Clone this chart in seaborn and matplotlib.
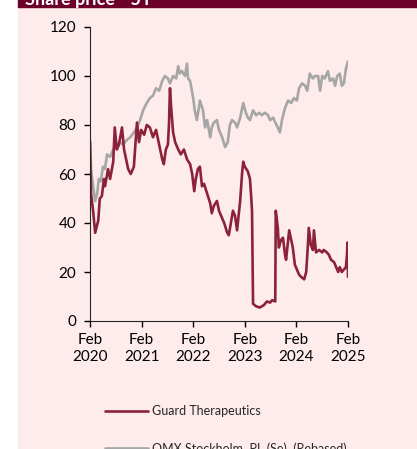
import pandas as pd
import numpy as np
import matplotlib.pyplot as plt
import seaborn as sns
from matplotlib.patches import Rectangle

# datos (anos desde feb 2020, valor)
guard_t = [0.00, 0.02, 0.06, 0.10, 0.16, 0.19, 0.23, 0.27, 0.29, 0.35, 0.39, 0.45, 0.48, 0.52, 0.56,
           0.62, 0.66, 0.70, 0.74, 0.79, 0.85, 0.91, 0.95, 0.99, 1.05, 1.10, 1.16, 1.22, 1.28, 1.34,
           1.40, 1.43, 1.47, 1.51, 1.53, 1.55, 1.57, 1.61, 1.65, 1.71, 1.76, 1.82, 1.88, 1.94, 1.98,
           2.02, 2.05, 2.09, 2.13, 2.17, 2.21, 2.27, 2.33, 2.36, 2.40, 2.46, 2.50, 2.56, 2.60, 2.66,
           2.69, 2.73, 2.77, 2.81, 2.85, 2.89, 2.91, 2.95, 2.97, 3.00, 3.06, 3.10, 3.12, 3.14, 3.16,
           3.22, 3.29, 3.37, 3.43, 3.49, 3.53, 3.59, 3.60, 3.64, 3.66, 3.70, 3.74, 3.78, 3.80, 3.84,
           3.86, 3.90, 3.93, 3.97, 4.01, 4.05, 4.09, 4.15, 4.19, 4.22, 4.24, 4.28, 4.32, 4.34, 4.38,
           4.44, 4.50, 4.53, 4.59, 4.63, 4.67, 4.73, 4.77, 4.81, 4.84, 4.88, 4.92, 4.96, 4.98, 4.99, 5.00]
guard_v = [73, 52, 45, 36, 41, 50, 51, 58, 55, 62, 58, 65, 79, 70, 72,
           79, 70, 66, 62, 60, 63, 81, 73, 78, 76, 80, 79, 75, 78, 72,
           66, 64, 70, 72, 80, 95, 88, 77, 73, 70, 68, 70, 66, 64, 60,
           53, 58, 62, 63, 55, 56, 52, 48, 44, 47, 49, 45, 42, 40, 36,
           35, 40, 45, 43, 37, 45, 49, 61, 65, 63, 61, 58, 52, 45, 7,
           6, 5.5, 6.5, 8, 7.5, 8.5, 8, 45, 38, 30, 33, 34, 27, 25, 33,
           37, 33, 30, 23, 21, 19, 18, 17, 20, 30, 38, 31, 29, 37, 28,
           29, 28, 29, 28, 27, 25, 24, 22, 20, 22, 20, 21, 22, 27, 32, 18]

omx_t = [0.00, 0.02, 0.06, 0.10, 0.14, 0.17, 0.21, 0.25, 0.29, 0.33, 0.39, 0.45, 0.52, 0.58, 0.64,
         0.72, 0.78, 0.85, 0.91, 0.97, 1.03, 1.10, 1.16, 1.22, 1.28, 1.34, 1.40, 1.45, 1.51, 1.55,
         1.61, 1.67, 1.71, 1.74, 1.78, 1.84, 1.88, 1.90, 1.94, 2.00, 2.03, 2.07, 2.11, 2.13, 2.19,
         2.23, 2.27, 2.33, 2.36, 2.40, 2.46, 2.50, 2.56, 2.62, 2.67, 2.71, 2.75, 2.81, 2.85, 2.91,
         2.97, 3.02, 3.06, 3.10, 3.16, 3.22, 3.28, 3.33, 3.39, 3.45, 3.49, 3.55, 3.59, 3.64, 3.68,
         3.72, 3.78, 3.84, 3.90, 3.95, 4.01, 4.05, 4.11, 4.17, 4.21, 4.26, 4.32, 4.36, 4.42, 4.46,
         4.50, 4.55, 4.61, 4.65, 4.71, 4.75, 4.79, 4.84, 4.88, 4.92, 4.96, 5.00]
omx_v = [74, 62, 55, 49, 52, 58, 57, 63, 62, 68, 67, 70, 71, 73, 72,
         74, 75, 77, 79, 82, 86, 89, 91, 92, 95, 94, 98, 100, 99, 97,
         100, 99, 104, 101, 102, 100, 105, 99, 98, 91, 86, 82, 87, 90, 86,
         79, 82, 75, 79, 81, 82, 78, 75, 71, 73, 80, 82, 81, 79, 83,
         89, 85, 83, 82, 86, 84, 85, 84, 85, 84, 82, 83, 81, 79, 77,
         82, 87, 90, 89, 91, 90, 95, 97, 96, 94, 101, 99, 100, 100, 94,
         100, 99, 102, 98, 99, 96, 100, 101, 96, 97, 103, 106]

series = ["Guard Therapeutics", "OMX Stockholm  PI  (Se)  (Rebased)"]
colores = ["#8c2239", "#a6a6a6"]
xticks = [0, 1, 2, 3, 4, 5]
xlabels = ["Feb\n2020", "Feb\n2021", "Feb\n2022", "Feb\n2023", "Feb\n2024", "Feb\n2025"]
yticks = [0, 20, 40, 60, 80, 100, 120]

df = pd.concat([
    pd.DataFrame({"t": guard_t, "valor": guard_v, "serie": series[0]}),
    pd.DataFrame({"t": omx_t, "valor": omx_v, "serie": series[1]}),
])

sns.set_style("ticks")
plt.rcParams['font.family'] = ['Lato', 'DejaVu Sans']

fig = plt.figure(figsize=(4.17, 4.49), dpi=100, facecolor="white")
fondo = "#fdeceb"
fig.patches.append(Rectangle((18 / 417, 0), 1, 1, transform=fig.transFigure, color=fondo, zorder=-2))
fig.patches.append(Rectangle((18 / 417, 1 - 7 / 449), 1, 1, transform=fig.transFigure, color="#6b0028", zorder=-1))
fig.text(25 / 417, 1 - 5 / 449, "Share price - 5Y", color="white", fontsize=13, fontweight="bold", va="baseline")

ax = fig.add_axes([90 / 417, 1 - 321 / 449, 258 / 417, 294 / 449])
ax.set_facecolor("none")
sns.lineplot(data=df, x="t", y="valor", hue="serie", hue_order=series[::-1],
             palette=colores[::-1], linewidth=1.9, ax=ax)

ax.set_xlim(0, 5)
ax.set_ylim(0, 120)
ax.set_xticks(xticks)
ax.set_xticklabels(xlabels)
ax.set_yticks(yticks)
ax.set_xlabel("")
ax.set_ylabel("")
ax.tick_params(labelsize=11, length=4, width=1, colors="black")
ax.tick_params(axis="x", pad=5)
ax.tick_params(axis="y", pad=6)
sns.despine(ax=ax)

handles, labels = ax.get_legend_handles_labels()
orden = [labels.index(s) for s in series]
ax.legend([handles[i] for i in orden], [labels[i] for i in orden],
          loc="upper left", bbox_to_anchor=(99 / 417, 1 - 399 / 449), bbox_transform=fig.transFigure,
          frameon=False, fontsize=9, handlelength=3.4, handletextpad=0.3, labelspacing=2.0, borderpad=0)

fig.savefig("out.png", dpi=100, facecolor=fig.get_facecolor())
